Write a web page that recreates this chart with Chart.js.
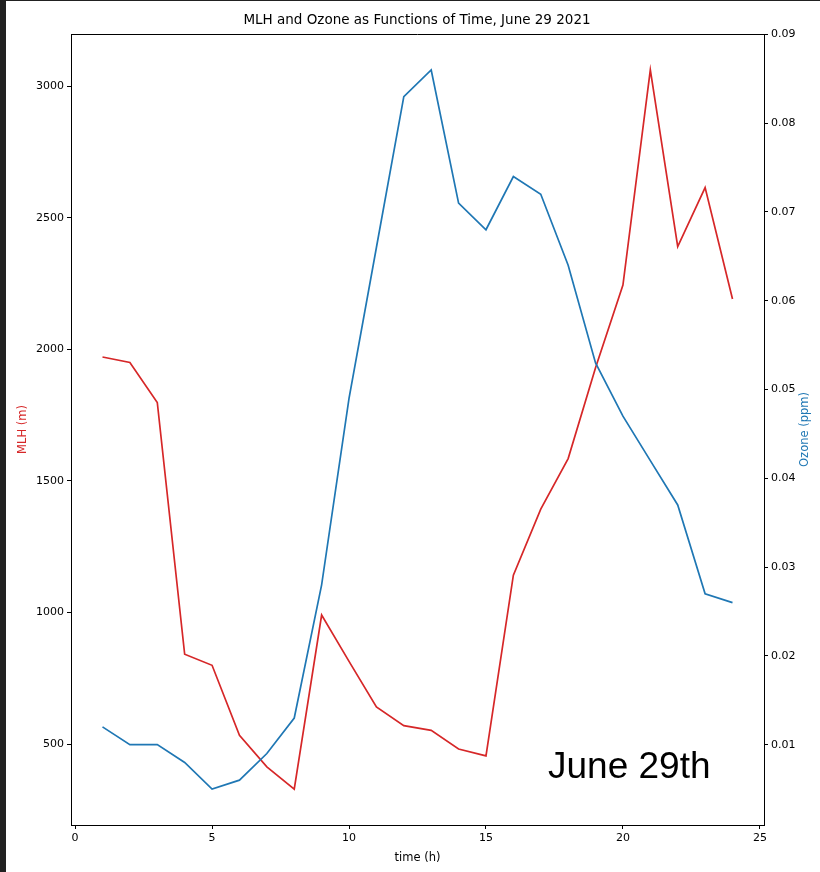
<!DOCTYPE html>
<html>
<head>
<meta charset="utf-8">
<title>MLH and Ozone, June 29 2021</title>
<script src="https://cdn.jsdelivr.net/npm/chart.js@4.4.1/dist/chart.umd.min.js"></script>
<style>
  html, body { margin: 0; padding: 0; background: #212121; width: 820px; height: 872px; overflow: hidden; }
  #wrap { position: absolute; left: 6px; top: 1px; width: 814px; height: 871px; background: #fff; }
  canvas { display: block; }
</style>
</head>
<body>
<div id="wrap"><canvas id="mlhChart" width="814" height="871"></canvas></div>
<script>
// hourly values
const hours = [1, 2, 3, 4, 5, 6, 7, 8, 9, 10, 11, 12, 13, 14, 15, 16, 17, 18, 19, 20, 21, 22, 23, 24];
const mlh = [1971, 1950, 1798, 842, 800, 534, 414, 330, 991, 815, 642, 571, 553, 482, 456, 1142, 1393, 1585, 1930, 2244, 3061, 2390, 2614, 2191];
const ozone = [0.012, 0.010, 0.010, 0.008, 0.005, 0.006, 0.009, 0.013, 0.028, 0.049, 0.066, 0.083, 0.086, 0.071, 0.068, 0.074, 0.072, 0.064, 0.053, 0.047, 0.042, 0.037, 0.027, 0.026];

const xTicks = [0, 5, 10, 15, 20, 25];
const mlhTicks = [500, 1000, 1500, 2000, 2500, 3000];
const ozoneTicks = [0.01, 0.02, 0.03, 0.04, 0.05, 0.06, 0.07, 0.08, 0.09];

const RED = '#d62728';
const BLUE = '#1f77b4';
const FONT = 'DejaVu Sans';

// matplotlib style 5% margins around the data
function padRange(vals) {
    const lo = Math.min(...vals), hi = Math.max(...vals), m = (hi - lo) * 0.05;
    return { min: lo - m, max: hi + m };
}
const xr = padRange(hours), mr = padRange(mlh), orr = padRange(ozone);

const fixTicks = list => scale => { scale.ticks = list.map(v => ({ value: v })); };

const frameAndText = {
    id: 'frameAndText',
    afterDraw(chart) {
        const { ctx, chartArea: a } = chart;
        ctx.save();
        ctx.strokeStyle = '#000'; ctx.lineWidth = 1;
        ctx.beginPath(); ctx.moveTo(a.left, Math.round(a.top) + 0.5); ctx.lineTo(a.right, Math.round(a.top) + 0.5); ctx.stroke();

        // right axis label reads bottom to top like matplotlib
        ctx.translate(799, (a.top + a.bottom) / 2);
        ctx.rotate(-Math.PI / 2);
        ctx.fillStyle = BLUE; ctx.font = `11.5px "${FONT}"`;
        ctx.textAlign = 'center'; ctx.textBaseline = 'middle';
        ctx.fillText('Ozone (ppm)', 0, 0);
        ctx.restore();

        ctx.save();
        ctx.fillStyle = '#000'; ctx.font = '37px "Liberation Sans"';
        ctx.textAlign = 'left'; ctx.textBaseline = 'alphabetic';
        ctx.fillText('June 29th', 542, 777);
        ctx.restore();
    }
};

const tickGrid = { drawOnChartArea: false, drawTicks: true, tickLength: 4, color: '#000', lineWidth: 1 };

new Chart(document.getElementById('mlhChart'), {
    type: 'line',
    data: {
        datasets: [
            { label: 'Ozone', data: hours.map((h, i) => ({ x: h, y: ozone[i] })), yAxisID: 'y2', borderColor: BLUE, borderWidth: 1.7, pointRadius: 0, tension: 0, fill: false },
            { label: 'MLH', data: hours.map((h, i) => ({ x: h, y: mlh[i] })), yAxisID: 'y', borderColor: RED, borderWidth: 1.7, pointRadius: 0, tension: 0, fill: false }
        ]
    },
    options: {
        responsive: false, animation: false,
        layout: { padding: { left: 8, right: 0, top: 0, bottom: 0 } },
        plugins: {
            legend: { display: false }, tooltip: { enabled: false },
            title: { display: true, text: 'MLH and Ozone as Functions of Time, June 29 2021', color: '#000', font: { family: FONT, size: 13.5, weight: 'normal' }, padding: { top: 11.5, bottom: 5.3 } }
        },
        scales: {
            x: {
                type: 'linear', position: 'bottom', min: xr.min, max: xr.max,
                afterBuildTicks: fixTicks(xTicks),
                afterFit: s => { s.height = 47; },
                grid: tickGrid, border: { display: true, color: '#000', width: 1 },
                ticks: { color: '#000', padding: 3, font: { family: FONT, size: 11 }, maxRotation: 0, callback: v => String(v) },
                title: { display: true, text: 'time (h)', color: '#000', font: { family: FONT, size: 11.5 }, padding: { top: 0, bottom: 7 } }
            },
            y: {
                type: 'linear', position: 'left', min: mr.min, max: mr.max,
                afterBuildTicks: fixTicks(mlhTicks),
                afterFit: s => { s.width = 57; },
                grid: tickGrid, border: { display: true, color: '#000', width: 1 },
                ticks: { color: '#000', padding: 3, font: { family: FONT, size: 11 }, callback: v => String(v) },
                title: { display: true, text: 'MLH (m)', color: RED, font: { family: FONT, size: 11.5 }, padding: { top: 2.5, bottom: 0 } }
            },
            y2: {
                type: 'linear', position: 'right', min: orr.min, max: orr.max,
                afterBuildTicks: fixTicks(ozoneTicks),
                afterFit: s => { s.width = 56; },
                grid: tickGrid, border: { display: true, color: '#000', width: 1 },
                ticks: { color: '#000', padding: 3, font: { family: FONT, size: 11 }, callback: v => v.toFixed(2) }
            }
        }
    },
    plugins: [frameAndText]
});
</script>
</body>
</html>
